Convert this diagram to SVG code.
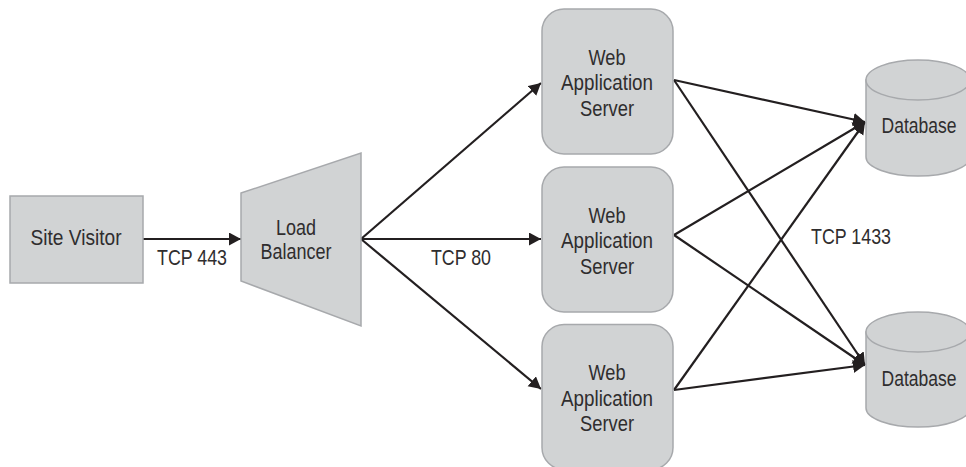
<svg xmlns="http://www.w3.org/2000/svg" width="966" height="467" viewBox="0 0 966 467">
<style>
.n{fill:#d1d3d4;stroke:#a7a9ac;stroke-width:1.5}
.t{font-family:"Liberation Sans",Arial,sans-serif;font-size:22px;fill:#2f2d2e;text-anchor:middle}
.c{fill:none;stroke:#231f20;stroke-width:2.2}
</style>
<defs>
<marker id="a" markerUnits="userSpaceOnUse" markerWidth="13" markerHeight="14" refX="12" refY="6.500" orient="auto"><path d="M0 0L12 6.500L0 13z" fill="#231f20"/></marker>
</defs>
<rect width="966" height="467" fill="#fff"/>
<g id="connectors">
<path class="c" marker-end="url(#a)" d="M143 239H241"/>
<path class="c" marker-end="url(#a)" d="M361 239L541 83"/>
<path class="c" marker-end="url(#a)" d="M361 239H541"/>
<path class="c" marker-end="url(#a)" d="M361 239L541 389"/>
<path class="c" marker-end="url(#a)" d="M674 80L865 122"/>
<path class="c" marker-end="url(#a)" d="M674 80L865 365"/>
<path class="c" marker-end="url(#a)" d="M674 235L865 122"/>
<path class="c" marker-end="url(#a)" d="M674 235L865 365"/>
<path class="c" marker-end="url(#a)" d="M674 390L865 122"/>
<path class="c" marker-end="url(#a)" d="M674 390L865 365"/>
</g>
<g id="site-visitor"><rect class="n" x="10" y="196" width="133" height="87"/><text class="t" x="76" y="245" textLength="91" lengthAdjust="spacingAndGlyphs">Site Visitor</text></g>
<g id="load-balancer"><path class="n" d="M241 193L361 153V326L241 281z"/><text class="t" x="296" y="235" textLength="40" lengthAdjust="spacingAndGlyphs">Load</text><text class="t" x="296" y="259" textLength="71" lengthAdjust="spacingAndGlyphs">Balancer</text></g>
<g id="web-1"><rect class="n" x="542" y="9" width="131" height="145" rx="22"/><text class="t" x="607" y="65" textLength="37" lengthAdjust="spacingAndGlyphs">Web</text><text class="t" x="607" y="90" textLength="92" lengthAdjust="spacingAndGlyphs">Application</text><text class="t" x="607" y="116" textLength="54" lengthAdjust="spacingAndGlyphs">Server</text></g>
<g id="web-2"><rect class="n" x="542" y="167" width="131" height="145" rx="22"/><text class="t" x="607" y="223" textLength="37" lengthAdjust="spacingAndGlyphs">Web</text><text class="t" x="607" y="248" textLength="92" lengthAdjust="spacingAndGlyphs">Application</text><text class="t" x="607" y="274" textLength="54" lengthAdjust="spacingAndGlyphs">Server</text></g>
<g id="web-3"><rect class="n" x="542" y="324.500" width="131" height="145" rx="22"/><text class="t" x="607" y="380" textLength="37" lengthAdjust="spacingAndGlyphs">Web</text><text class="t" x="607" y="406" textLength="92" lengthAdjust="spacingAndGlyphs">Application</text><text class="t" x="607" y="431" textLength="54" lengthAdjust="spacingAndGlyphs">Server</text></g>
<g id="db-1"><path class="n" d="M866 80V157A52 19 0 0 0 970 157V80z"/><ellipse class="n" cx="918" cy="80" rx="52" ry="20"/><text class="t" transform="translate(919 133) scale(.796 1)">Database</text></g>
<g id="db-2"><path class="n" d="M866 332V408A52 19 0 0 0 970 408V332z"/><ellipse class="n" cx="918" cy="332" rx="52" ry="20"/><text class="t" transform="translate(919 386) scale(.796 1)">Database</text></g>
<g id="labels"><text class="t" x="192" y="265" textLength="70" lengthAdjust="spacingAndGlyphs">TCP 443</text><text class="t" x="461" y="265" textLength="60" lengthAdjust="spacingAndGlyphs">TCP 80</text><text class="t" x="851" y="244" textLength="80" lengthAdjust="spacingAndGlyphs">TCP 1433</text></g>
</svg>
